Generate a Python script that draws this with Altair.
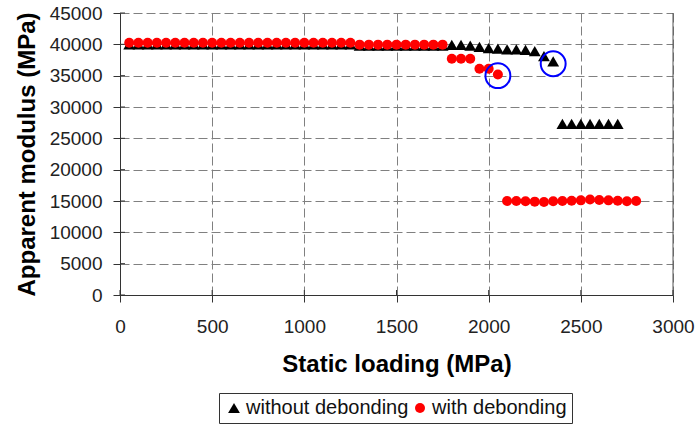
import altair as alt
import pandas as pd

# Series labels
series_names = ["without debonding", "with debonding"]

# Static loading (MPa) and apparent modulus (MPa) without debonding
load_nodeb = [
    50, 100, 150, 200, 250, 300, 350, 400, 450, 500,
    550, 600, 650, 700, 750, 800, 850, 900, 950, 1000,
    1050, 1100, 1150, 1200, 1250,
    1300, 1350, 1400, 1450, 1500, 1550, 1600, 1650, 1700, 1750,
    1800, 1850, 1900, 1950, 2000, 2050, 2100, 2150, 2200, 2250, 2300, 2350,
    2400, 2450, 2500, 2550, 2600, 2650, 2700,
]
mod_nodeb = [
    40000, 40000, 40000, 40000, 40000, 40000, 40000, 40000, 40000, 40000,
    40000, 40000, 40000, 40000, 40000, 40000, 40000, 40000, 40000, 40000,
    40000, 40000, 40000, 40000, 40000,
    39800, 39800, 39800, 39800, 39800, 39800, 39800, 39800, 39800, 39800,
    39900, 39900, 39800, 39600, 39400, 39300, 39200, 39200, 39100, 38900, 38100, 37300,
    27300, 27300, 27300, 27300, 27300, 27300, 27300,
]

# Static loading (MPa) and apparent modulus (MPa) with debonding
load_deb = [
    50, 100, 150, 200, 250, 300, 350, 400, 450, 500,
    550, 600, 650, 700, 750, 800, 850, 900, 950, 1000,
    1050, 1100, 1150, 1200, 1250,
    1300, 1350, 1400, 1450, 1500, 1550, 1600, 1650, 1700, 1750,
    1800, 1850, 1900, 1950, 2000, 2050,
    2100, 2150, 2200, 2250, 2300, 2350, 2400, 2450, 2500, 2550,
    2600, 2650, 2700, 2750, 2800,
]
mod_deb = [
    40250, 40250, 40250, 40250, 40250, 40250, 40250, 40250, 40250, 40250,
    40250, 40250, 40250, 40250, 40250, 40250, 40250, 40250, 40250, 40250,
    40250, 40250, 40250, 40250, 40250,
    39950, 39950, 39950, 39950, 39950, 39950, 39950, 39950, 39950, 39950,
    37700, 37700, 37700, 36100, 36100, 35200,
    15000, 15000, 14950, 14900, 14850, 14950, 15000, 15050, 15100, 15250,
    15150, 15100, 15050, 14950, 15000,
]

# Points marked with open rings (onset of debonding failure)
ring_load = [2050, 2350]
ring_mod = [35000, 36900]

# Axis ticks
x_ticks = [0, 500, 1000, 1500, 2000, 2500, 3000]
y_ticks = [0, 5000, 10000, 15000, 20000, 25000, 30000, 35000, 40000, 45000]

W, H = 553, 282
FONT = "Liberation Sans"

df = pd.concat([
    pd.DataFrame({"load": load_nodeb, "modulus": mod_nodeb, "series": series_names[0]}),
    pd.DataFrame({"load": load_deb, "modulus": mod_deb, "series": series_names[1]}),
], ignore_index=True)
rings = pd.DataFrame({"load": ring_load, "modulus": ring_mod})
xt = pd.DataFrame({"load": x_ticks})
yt = pd.DataFrame({"modulus": y_ticks})

x_scale = alt.Scale(domain=[x_ticks[0], x_ticks[-1]], nice=False)
y_scale = alt.Scale(domain=[y_ticks[0], y_ticks[-1]], nice=False)

x_axis = alt.Axis(values=x_ticks, format="d", grid=True, tickSize=7,
                  labelPadding=15, titlePadding=16, labelFlush=False,
                  labelOverlap=False)
y_axis = alt.Axis(values=y_ticks, format="d", grid=True, tickSize=7,
                  labelPadding=11, titlePadding=10, labelOverlap=False,
                  labelFlush=False)
X_TITLE = "Static loading (MPa)"
Y_TITLE = "Apparent modulus (MPa)"

legend = alt.Legend(
    title=None, orient="none", legendX=99, legendY=380, direction="horizontal",
    strokeColor="#333333", padding=5, labelFont=FONT, labelFontSize=20,
    labelColor="#111111", labelLimit=400, symbolSize=160, symbolStrokeWidth=0,
    labelOffset=2, columnPadding=1, fillColor="white",
)

points = alt.Chart(df).mark_point(filled=True, opacity=1).encode(
    x=alt.X("load:Q", scale=x_scale, title=X_TITLE, axis=x_axis),
    y=alt.Y("modulus:Q", scale=y_scale, title=Y_TITLE, axis=y_axis),
    color=alt.Color("series:N", scale=alt.Scale(domain=series_names, range=["#000000", "#FF0000"]),
                    legend=legend),
    shape=alt.Shape("series:N", scale=alt.Scale(domain=series_names, range=["triangle-up", "circle"]),
                    legend=legend),
    size=alt.Size("series:N", scale=alt.Scale(domain=series_names, range=[140, 100]), legend=None),
    order=alt.Order("series:N", sort="descending"),
)

ring_marks = alt.Chart(rings).mark_point(
    shape="circle", filled=False, stroke="#0000FF", strokeWidth=2, size=620, opacity=1
).encode(
    x=alt.X("load:Q", scale=x_scale, title=X_TITLE, axis=x_axis),
    y=alt.Y("modulus:Q", scale=y_scale, title=Y_TITLE, axis=y_axis),
)

# Inner halves of the crossing tick marks
y_inner = alt.Chart(yt).mark_rule(color="#333333").encode(
    y=alt.Y("modulus:Q", scale=y_scale, title=Y_TITLE, axis=y_axis),
    x=alt.value(0), x2=alt.value(5),
)
x_inner = alt.Chart(xt).mark_rule(color="#333333").encode(
    x=alt.X("load:Q", scale=x_scale, title=X_TITLE, axis=x_axis),
    y=alt.value(H - 5), y2=alt.value(H),
)
right_edge = alt.Chart(pd.DataFrame({"load": [x_ticks[-1]]})).mark_rule(color="#555555").encode(
    x=alt.X("load:Q", scale=x_scale, title=X_TITLE, axis=x_axis),
    y=alt.value(0), y2=alt.value(H),
)

chart = alt.layer(right_edge, y_inner, x_inner, points, ring_marks).properties(
    width=W, height=H,
    autosize=alt.AutoSizeParams(type="none"),
    padding={"left": 120, "top": 13, "right": 23, "bottom": 130},
).configure_view(stroke=None).configure_axis(
    labelFont=FONT, labelFontSize=19, labelColor="#222222", labelOverlap=False,
    titleFont=FONT, titleFontSize=24, titleFontWeight="bold", titleColor="#000000",
    domainColor="#333333", tickColor="#333333",
    gridColor="#808080", gridDash=[9, 4], gridWidth=1,
)

chart.save("out.html", embed_options={"renderer": "svg", "actions": False})
